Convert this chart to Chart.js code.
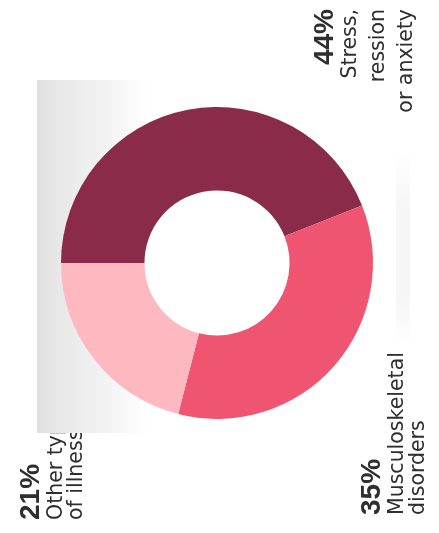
<!DOCTYPE html>
<html lang="en">
<head>
    <meta charset="UTF-8">
    <title>Work-related ill health</title>
    <script src="https://cdn.jsdelivr.net/npm/chart.js"></script>
    <style>
        body { margin: 0; background: #fff; }
        #wrap { width: 439px; height: 533px; }
    </style>
</head>
<body>
    <div id="wrap">
        <canvas id="myChart" width="439" height="533"></canvas>
    </div>

<script>
    // dados do gráfico
    const categorias = ["Stress, depression or anxiety", "Musculoskeletal disorders", "Other types of illness"];
    const valores = [44, 35, 21];
    const cores = ["#8a2c49", "#ef5570", "#fdb8c0"];

    // rótulos (texto girado, cada bloco = linhas)
    const rotulos = [
        { pct: "44%", linhas: ["Stress,", "ression", "or anxiety"], x: 333, y: 9, alinhar: "right", passo: 28 },
        { pct: "35%", linhas: ["Musculoskeletal", "disorders"], x: 380, y: 515, alinhar: "left", passo: 21 },
        { pct: "21%", linhas: ["Other types", "of illness"], x: 39, y: 520, alinhar: "left", passo: 20 }
    ];

    const corTexto = "#2e2e2e";

    // faixa clara à direita, texto girado -90 graus, faixa cinza do papel por cima
    const fundo = {
        id: "fundo",
        beforeDatasetsDraw(chart) {
            const ctx = chart.ctx;
            ctx.save();

            const g2 = ctx.createLinearGradient(0, 150, 0, 345);
            g2.addColorStop(0, "#ffffff");
            g2.addColorStop(0.3, "#f6f6f6");
            g2.addColorStop(0.75, "#f6f6f6");
            g2.addColorStop(1, "#ffffff");
            ctx.fillStyle = g2;
            ctx.fillRect(396, 150, 14, 195);

            ctx.fillStyle = corTexto;
            rotulos.forEach(r => {
                ctx.save();
                ctx.translate(r.x, r.y);
                ctx.rotate(-Math.PI / 2);
                ctx.textAlign = r.alinhar;
                ctx.textBaseline = "alphabetic";
                ctx.font = "bold 28px 'Liberation Sans'";
                ctx.fillText(r.pct, 0, 0);
                ctx.font = "20.5px 'DejaVu Sans'";
                r.linhas.forEach((l, i) => {
                    ctx.fillText(l, 0, 23 + i * r.passo);
                });
                ctx.restore();
            });

            // faixa cinza à esquerda
            const g = ctx.createLinearGradient(37, 0, 150, 0);
            g.addColorStop(0, "#dfdfdf");
            g.addColorStop(0.2, "#e8e8e8");
            g.addColorStop(0.65, "#f4f4f4");
            g.addColorStop(1, "#ffffff");
            ctx.fillStyle = g;
            ctx.fillRect(37, 80, 113, 353);
            ctx.restore();
        }
    };

    new Chart(document.getElementById("myChart"), {
        type: "doughnut",
        data: {
            labels: categorias,
            datasets: [{
                data: valores,
                backgroundColor: cores,
                borderWidth: 0
            }]
        },
        options: {
            responsive: false,
            animation: false,
            rotation: 270,
            cutout: "46.5%",
            layout: { padding: { left: 61, right: 66, top: 107, bottom: 114 } },
            plugins: {
                legend: { display: false },
                tooltip: { enabled: false }
            }
        },
        plugins: [fundo]
    });
</script>
</body>
</html>
